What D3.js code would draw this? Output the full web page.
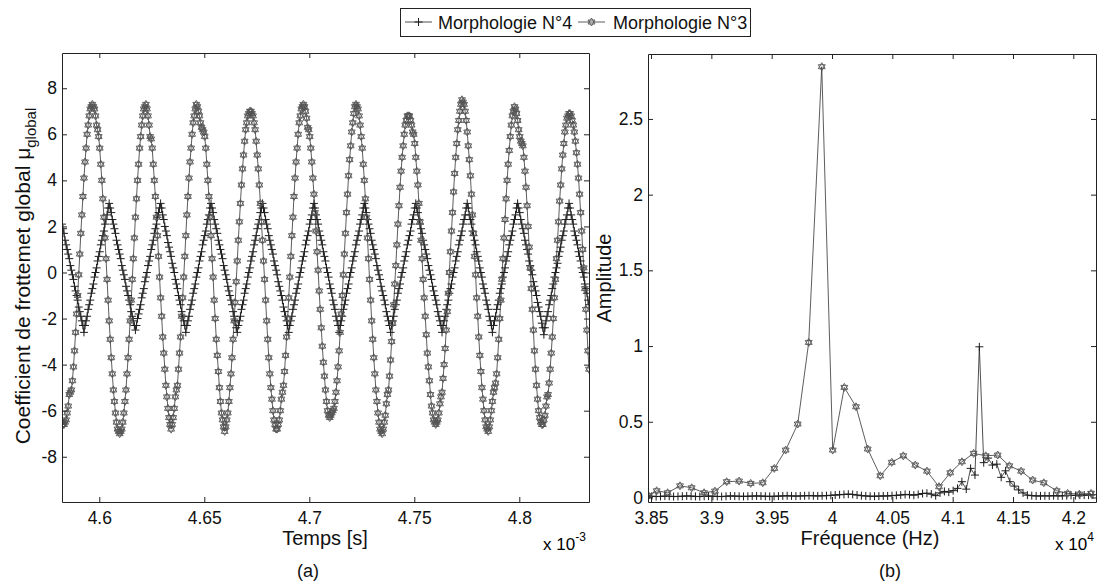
<!DOCTYPE html>
<html>
<head>
<meta charset="utf-8">
<script src="https://cdn.jsdelivr.net/npm/d3@7"></script>
<style>
  body { margin: 0; background: #fff; }
  svg { font-family: "Liberation Sans", Arial, sans-serif; }
  .axis { color: #222; font-size: 17.5px; }
  .axis text { fill: #111; }
  .axislabel { font-size: 20px; fill: #111; }
  .panel { font-size: 18px; fill: #111; }
  .legend { font-size: 18px; fill: #111; }
  .n4line { fill: none; stroke: #222; stroke-width: 0.8; }
  .n3line { fill: none; stroke: #333; stroke-width: 0.8; }
  .plus { fill: none; stroke: #1e1e1e; stroke-width: 1; }
  .star { fill: none; stroke: #555; stroke-width: 0.9; }
</style>
</head>
<body>
<svg id="fig" width="1101" height="587"></svg>
<script>
// ---- data ----
const legendLabels = ["Morphologie N\u00b04", "Morphologie N\u00b03"];

// (a) friction coefficient, sampled every 0.5 us from 4.5822e-3 s
const timeStart = 4.5822, timeStep = 0.0005;   // x 10^-3 s
const frictionN4 = [
  2.1, 1.9, 1.7, 1.4, 1.2, 1.0, 0.8, 0.6, 0.3, 0.1, -0.1, -0.3, -0.6, -0.8, -1.0, -1.2, -1.5, -1.7, -1.9, -2.1, -2.3, -2.6,
  -2.3, -2.1, -1.9, -1.6, -1.4, -1.2, -0.9, -0.7, -0.5, -0.2, 0.0, 0.2, 0.5, 0.7, 0.9, 1.2, 1.4, 1.6, 1.8, 2.1, 2.3, 2.5, 2.8, 3.0,
  2.8, 2.6, 2.3, 2.1, 1.9, 1.7, 1.4, 1.2, 1.0, 0.8, 0.6, 0.3, 0.1, -0.1, -0.3, -0.6, -0.8, -1.0, -1.2, -1.4, -1.7, -1.9, -2.1, -2.3, -2.5,
  -2.3, -2.0, -1.8, -1.6, -1.4, -1.1, -0.9, -0.7, -0.4, -0.2, 0.0, 0.3, 0.5, 0.7, 1.0, 1.2, 1.4, 1.7, 1.9, 2.1, 2.4, 2.6, 2.8, 3.0,
  2.8, 2.5, 2.3, 2.0, 1.8, 1.6, 1.3, 1.1, 0.9, 0.7, 0.4, 0.2, 0.0, -0.3, -0.5, -0.7, -1.0, -1.2, -1.4, -1.7, -1.9, -2.1, -2.3, -2.6,
  -2.3, -2.1, -1.9, -1.6, -1.4, -1.2, -0.9, -0.7, -0.5, -0.2, 0.0, 0.2, 0.5, 0.7, 0.9, 1.2, 1.4, 1.6, 1.8, 2.1, 2.3, 2.5, 2.8, 3.0,
  2.8, 2.6, 2.3, 2.1, 1.9, 1.7, 1.4, 1.2, 1.0, 0.8, 0.6, 0.3, 0.1, -0.1, -0.3, -0.6, -0.8, -1.0, -1.2, -1.4, -1.7, -1.9, -2.1, -2.4, -2.6,
  -2.3, -2.1, -1.9, -1.6, -1.4, -1.2, -0.9, -0.7, -0.5, -0.2, 0.0, 0.2, 0.5, 0.7, 0.9, 1.2, 1.4, 1.6, 1.9, 2.1, 2.3, 2.6, 2.8, 3.0,
  2.8, 2.6, 2.3, 2.1, 1.9, 1.6, 1.4, 1.2, 1.0, 0.8, 0.5, 0.3, 0.1, -0.1, -0.4, -0.6, -0.8, -1.0, -1.2, -1.5, -1.7, -1.9, -2.1, -2.3, -2.6,
  -2.3, -2.1, -1.9, -1.6, -1.4, -1.2, -0.9, -0.7, -0.5, -0.2, 0.0, 0.2, 0.5, 0.7, 0.9, 1.2, 1.4, 1.6, 1.8, 2.1, 2.3, 2.5, 2.8, 3.0,
  2.8, 2.5, 2.3, 2.1, 1.8, 1.6, 1.4, 1.2, 0.9, 0.7, 0.5, 0.2, 0.0, -0.2, -0.5, -0.7, -0.9, -1.2, -1.4, -1.6, -1.9, -2.1, -2.3, -2.6,
  -2.3, -2.1, -1.9, -1.6, -1.4, -1.2, -0.9, -0.7, -0.5, -0.2, 0.0, 0.2, 0.5, 0.7, 0.9, 1.2, 1.4, 1.6, 1.8, 2.1, 2.3, 2.5, 2.8, 3.0,
  2.8, 2.6, 2.3, 2.1, 1.9, 1.7, 1.4, 1.2, 1.0, 0.8, 0.6, 0.3, 0.1, -0.1, -0.3, -0.6, -0.8, -1.0, -1.2, -1.4, -1.7, -1.9, -2.1, -2.3, -2.6,
  -2.3, -2.1, -1.9, -1.6, -1.4, -1.2, -0.9, -0.7, -0.5, -0.2, 0.0, 0.2, 0.5, 0.7, 0.9, 1.2, 1.4, 1.6, 1.8, 2.1, 2.3, 2.5, 2.8, 3.0,
  2.8, 2.6, 2.3, 2.1, 1.9, 1.7, 1.4, 1.2, 1.0, 0.8, 0.6, 0.3, 0.1, -0.1, -0.3, -0.6, -0.8, -1.0, -1.2, -1.4, -1.7, -1.9, -2.1, -2.3, -2.6,
  -2.3, -2.1, -1.9, -1.6, -1.4, -1.2, -0.9, -0.7, -0.5, -0.2, 0.0, 0.2, 0.5, 0.7, 0.9, 1.2, 1.4, 1.6, 1.8, 2.1, 2.3, 2.5, 2.8, 3.0,
  2.8, 2.5, 2.3, 2.1, 1.8, 1.6, 1.4, 1.2, 0.9, 0.7, 0.5, 0.2, 0.0, -0.2, -0.5, -0.7, -0.9, -1.2, -1.4, -1.6, -1.9, -2.1, -2.3, -2.6,
  -2.3, -2.1, -1.9, -1.6, -1.4, -1.2, -0.9, -0.7, -0.5, -0.2, 0.0, 0.2, 0.5, 0.7, 0.9, 1.2, 1.4, 1.6, 1.8, 2.1, 2.3, 2.5, 2.8, 3.0,
  2.8, 2.6, 2.3, 2.1, 1.9, 1.7, 1.4, 1.2, 1.0, 0.8, 0.5, 0.3, 0.1, -0.1, -0.4, -0.6, -0.8, -1.0, -1.3, -1.5, -1.7, -1.9, -2.2, -2.4, -2.7,
  -2.4, -2.1, -1.9, -1.7, -1.4, -1.2, -1.0, -0.7, -0.5, -0.2, 0.0, 0.2, 0.4, 0.7, 0.9, 1.1, 1.4, 1.6, 1.8, 2.1, 2.3, 2.5, 2.8, 3.0,
  2.8, 2.5, 2.3, 2.1, 1.8, 1.6, 1.4, 1.2, 0.9, 0.7, 0.5, 0.2, 0.0, -0.2, -0.5, -0.7, -0.9, -1.2, -1.4
];
const frictionN3 = [
  -6.5, -6.6, -6.6,
  -6.5, -6.4, -6.1, -5.8, -5.3, -5.2, -5.1, -4.7, -4.1, -3.4, -2.6, -1.8, -1.0, -0.1, 0.8, 1.7, 2.5, 3.3, 4.1, 4.8, 5.4, 6.0, 6.4, 6.8, 7.1, 7.2, 7.3,
  7.2, 7.1, 6.8, 6.4, 6.2, 5.9, 5.4, 4.7, 4.0, 3.2, 2.4, 1.5, 0.6, -0.3, -1.2, -2.1, -2.9, -3.7, -4.4, -5.1, -5.6, -6.1, -6.5, -6.8, -6.9, -7.0,
  -6.9, -6.8, -6.5, -6.1, -5.6, -5.1, -4.4, -3.7, -2.9, -2.1, -1.2, -0.3, 0.6, 1.5, 2.4, 3.2, 4.0, 4.7, 5.4, 5.9, 6.4, 6.8, 7.1, 7.2, 7.3,
  7.1, 6.8, 6.4, 5.9, 5.8, 5.4, 4.7, 4.0, 3.3, 2.4, 1.6, 0.7, -0.2, -1.1, -1.9, -2.8, -3.5, -4.2, -4.9, -5.4, -5.9, -6.3, -6.6, -6.8,
  -6.6, -6.3, -5.9, -5.4, -5.1, -4.9, -4.2, -3.5, -2.8, -1.9, -1.1, -0.2, 0.7, 1.6, 2.5, 3.3, 4.1, 4.8, 5.4, 6.0, 6.5, 6.8, 7.1, 7.3,
  7.2, 7.0, 6.8, 6.5, 6.3, 6.2, 6.1, 5.9, 5.4, 4.7, 4.0, 3.3, 2.4, 1.6, 0.6, -0.2, -1.2, -2.0, -2.9, -3.6, -4.3, -5.0, -5.6, -6.1, -6.4, -6.7, -6.9,
  -6.7, -6.4, -6.1, -5.6, -5.0, -4.4, -3.7, -2.9, -2.1, -1.3, -0.4, 0.5, 1.4, 2.2, 3.0, 3.8, 4.5, 5.1, 5.7, 6.2, 6.5, 6.8, 6.9, 7.0,
  7.0, 6.9, 6.8, 6.5, 6.2, 5.7, 5.1, 4.5, 3.8, 3.0, 2.2, 1.4, 0.5, -0.3, -1.2, -2.1, -2.9, -3.7, -4.4, -5.0, -5.5, -6.0, -6.4, -6.6, -6.8, -6.8,
  -6.6, -6.4, -6.0, -5.5, -5.2, -4.9, -4.3, -3.6, -2.8, -2.0, -1.1, -0.2, 0.7, 1.6, 2.4, 3.3, 4.1, 4.8, 5.4, 6.0, 6.5, 6.8, 7.1, 7.2, 7.3,
  7.2, 7.0, 6.7, 6.3, 6.2, 5.9, 5.4, 4.8, 4.1, 3.4, 2.6, 1.8, 0.9, 0.1, -0.8, -1.6, -2.4, -3.2, -3.9, -4.5, -5.1, -5.6, -6.0, -6.2, -6.3,
  -6.2, -6.1, -6.0, -5.9, -5.6, -5.2, -4.7, -4.1, -3.4, -2.6, -1.8, -1.0, -0.1, 0.8, 1.7, 2.6, 3.4, 4.2, 4.9, 5.5, 6.1, 6.5, 6.9, 7.2, 7.3,
  7.2, 7.1, 6.8, 6.4, 5.9, 5.4, 4.7, 4.0, 3.2, 2.4, 1.5, 0.6, -0.3, -1.2, -2.1, -2.9, -3.7, -4.4, -5.1, -5.6, -6.1, -6.5, -6.8, -6.9, -7.0,
  -6.8, -6.5, -6.2, -5.7, -5.3, -5.1, -4.5, -3.8, -3.0, -2.2, -1.4, -0.5, 0.3, 1.2, 2.1, 2.9, 3.7, 4.4, 5.0, 5.5, 6.0, 6.4, 6.6, 6.8, 6.8,
  6.8, 6.6, 6.4, 6.1, 6.0, 5.6, 5.0, 4.4, 3.8, 3.0, 2.2, 1.4, 0.6, -0.3, -1.1, -1.9, -2.7, -3.5, -4.1, -4.7, -5.3, -5.8, -6.1, -6.4, -6.5, -6.6,
  -6.5, -6.4, -6.1, -5.7, -5.4, -5.2, -4.6, -4.0, -3.3, -2.5, -1.7, -0.9, 0.0, 0.9, 1.8, 2.6, 3.5, 4.3, 5.0, 5.6, 6.2, 6.6, 7.0, 7.3, 7.5,
  7.4, 7.3, 7.0, 6.6, 6.1, 5.5, 4.9, 4.2, 3.4, 2.5, 1.7, 0.7, -0.1, -1.1, -1.9, -2.8, -3.6, -4.3, -5.0, -5.5, -6.0, -6.4, -6.7, -6.8, -6.9,
  -6.7, -6.4, -6.0, -5.6, -5.2, -5.0, -4.8, -4.4, -3.7, -2.9, -2.0, -1.2, -0.3, 0.6, 1.5, 2.3, 3.2, 4.0, 4.7, 5.3, 5.9, 6.4, 6.8, 7.0, 7.2,
  7.1, 6.9, 6.6, 6.2, 5.9, 5.7, 5.6, 5.5, 5.0, 4.4, 3.7, 2.9, 2.0, 1.1, 0.2, -0.7, -1.6, -2.5, -3.4, -4.2, -4.9, -5.5, -6.0, -6.3, -6.5, -6.6,
  -6.6, -6.4, -6.2, -5.8, -5.4, -5.3, -4.8, -4.2, -3.5, -2.8, -2.0, -1.1, -0.3, 0.6, 1.4, 2.2, 3.1, 3.8, 4.5, 5.1, 5.6, 6.1, 6.4, 6.7, 6.8, 6.9,
  6.9, 6.8, 6.6, 6.4, 6.1, 5.7, 5.2, 4.7, 4.1, 3.4, 2.6, 1.8, 1.0, 0.2, -0.7, -1.6, -2.5, -3.4, -4.2
];

// (b) spectra
const freqStartN4 = 3.847, freqStepN4 = 0.00362;  // x 10^4 Hz
const ampN4 = [
  0.01, 0.008, 0.006, 0.007, 0.009, 0.008, 0.006, 0.007, 0.008, 0.01, 0.009, 0.007, 0.006, 0.008, 0.009, 0.008, 0.007, 0.006, 0.008, 0.01,
  0.009, 0.008, 0.007, 0.008, 0.009, 0.01, 0.009, 0.008, 0.007, 0.008, 0.009, 0.01, 0.011, 0.01, 0.009, 0.01, 0.011, 0.012, 0.011, 0.01, 0.011,
  0.012, 0.014, 0.016, 0.018, 0.02, 0.022, 0.02, 0.016, 0.012, 0.01, 0.008, 0.008, 0.009, 0.01, 0.01, 0.012, 0.014, 0.016, 0.02, 0.018,
  0.015, 0.02, 0.026, 0.028, 0.022, 0.012,
  0.03, 0.04, 0.035, 0.045, 0.06, 0.104, 0.055, 0.192, 0.148, 0.995, 0.23, 0.26, 0.214, 0.22, 0.133, 0.176, 0.104, 0.075, 0.05, 0.03, 0.015,
  0.012, 0.01, 0.01, 0.011, 0.01, 0.012, 0.01, 0.011, 0.012, 0.014, 0.013, 0.015, 0.016, 0.015, 0.018
];
const freqN3 = [3.848, 3.8547, 3.8638, 3.874, 3.8837, 3.894, 3.903, 3.9127, 3.923, 3.9326, 3.9426, 3.9522, 3.9616,
  3.9716, 3.9807, 3.9915, 4.0006, 4.0102, 4.0199, 4.0296, 4.040, 4.0495, 4.0591, 4.069, 4.0787, 4.0887, 4.098,
  4.1077, 4.1174, 4.1274, 4.1373, 4.147, 4.1567, 4.1663, 4.1755, 4.1862, 4.1953, 4.205, 4.2147];
const ampN3 = [0.012, 0.044, 0.031, 0.077, 0.064, 0.031, 0.042, 0.104, 0.108, 0.093, 0.097, 0.192, 0.313,
  0.485, 1.024, 2.845, 0.313, 0.727, 0.599, 0.32, 0.143, 0.232, 0.275, 0.214, 0.174, 0.071, 0.163,
  0.236, 0.291, 0.275, 0.28, 0.209, 0.174, 0.115, 0.097, 0.044, 0.027, 0.022, 0.027];

const timeTicks = [4.6, 4.65, 4.7, 4.75, 4.8];
const frictionTicks = [-8, -6, -4, -2, 0, 2, 4, 6, 8];
const freqTicks = [3.85, 3.9, 3.95, 4, 4.05, 4.1, 4.15, 4.2];
const ampTicks = [0, 0.5, 1, 1.5, 2, 2.5];

// ---- markers ----
// hexagram drawn as two overlapping triangles, like the printed markers
function hexagram(R) {
  let tri = (start) => {
    let p = [];
    for (let k = 0; k < 3; k++) {
      let a = (start + 120 * k) * Math.PI / 180;
      p.push((R * Math.cos(a)).toFixed(2) + "," + (R * Math.sin(a)).toFixed(2));
    }
    return "M" + p.join("L") + "Z";
  };
  return tri(-90) + tri(90);
}
function plus(r) { return `M${-r},0H${r}M0,${-r}V${r}`; }
const starPath = hexagram(4);
const plusPath = plus(4);

const svg = d3.select("#fig");
const fmt = d => String(+d.toFixed(2));

function frame(g, x, y, xt, yt, left, top, right, bottom) {
  g.append("g").attr("class", "axis").attr("transform", `translate(0,${bottom})`)
    .call(d3.axisBottom(x).tickValues(xt).tickSizeInner(-5).tickSizeOuter(0).tickPadding(10).tickFormat(fmt));
  g.append("g").attr("class", "axis").attr("transform", `translate(0,${top})`)
    .call(d3.axisTop(x).tickValues(xt).tickSizeInner(-5).tickSizeOuter(0).tickFormat(""));
  g.append("g").attr("class", "axis").attr("transform", `translate(${left},0)`)
    .call(d3.axisLeft(y).tickValues(yt).tickSizeInner(-5).tickSizeOuter(0).tickPadding(5).tickFormat(fmt));
  g.append("g").attr("class", "axis").attr("transform", `translate(${right},0)`)
    .call(d3.axisRight(y).tickValues(yt).tickSizeInner(-5).tickSizeOuter(0).tickFormat(""));
}

// ---- panel (a) ----
const xA = d3.scaleLinear().domain([4.58224, 4.83319]).range([62, 589]);
const yA = d3.scaleLinear().domain([-9.965, 9.53]).range([502, 53]);
svg.append("clipPath").attr("id", "clipA").append("rect")
  .attr("x", 62).attr("y", 53).attr("width", 527).attr("height", 449);
const gA = svg.append("g");
const dataA4 = frictionN4.map((v, i) => [timeStart + i * timeStep, v]);
const dataA3 = frictionN3.map((v, i) => [timeStart + i * timeStep, v]);
const lineA = d3.line().x(d => xA(d[0])).y(d => yA(d[1]));
const plotA = gA.append("g").attr("clip-path", "url(#clipA)");
plotA.append("path").attr("class", "n4line").attr("d", lineA(dataA4));
plotA.append("path").attr("class", "n3line").attr("d", lineA(dataA3));
plotA.selectAll(".p4").data(dataA4).join("path").attr("class", "plus")
  .attr("d", plusPath).attr("transform", d => `translate(${xA(d[0])},${yA(d[1])})`);
plotA.selectAll(".s3").data(dataA3).join("path").attr("class", "star")
  .attr("d", starPath).attr("transform", d => `translate(${xA(d[0])},${yA(d[1])})`);
frame(gA, xA, yA, timeTicks, frictionTicks, 62, 53, 589, 502);

gA.append("text").attr("class", "axislabel").attr("x", 325).attr("y", 545)
  .attr("text-anchor", "middle").text("Temps [s]");
let ylab = gA.append("text").attr("class", "axislabel").attr("text-anchor", "middle")
  .style("font-size", "21px").attr("transform", "translate(30,276) rotate(-90)");
ylab.append("tspan").text("Coefficient de frottemet global \u03bc");
ylab.append("tspan").attr("font-size", "15px").attr("dy", 6).text("global");
let ea = gA.append("text").attr("class", "axis").attr("x", 543).attr("y", 550).style("font-size", "17px");
ea.append("tspan").text("x 10");
ea.append("tspan").attr("dy", -9).style("font-size", "12px").text("-3");
gA.append("text").attr("class", "panel").attr("x", 308).attr("y", 577)
  .attr("text-anchor", "middle").text("(a)");

// ---- panel (b) ----
const xB = d3.scaleLinear().domain([3.8475, 4.2188]).range([648, 1096]);
const yB = d3.scaleLinear().domain([-0.03, 2.929]).range([502, 54]);
svg.append("clipPath").attr("id", "clipB").append("rect")
  .attr("x", 648).attr("y", 54).attr("width", 448).attr("height", 448);
const gB = svg.append("g");
const dataB4 = ampN4.map((v, i) => [freqStartN4 + i * freqStepN4, v]);
const dataB3 = ampN3.map((v, i) => [freqN3[i], v]);
const lineB = d3.line().x(d => xB(d[0])).y(d => yB(d[1]));
const plotB = gB.append("g").attr("clip-path", "url(#clipB)");
plotB.append("path").attr("class", "n4line").attr("d", lineB(dataB4));
plotB.append("path").attr("class", "n3line").attr("d", lineB(dataB3));
plotB.selectAll(".p4").data(dataB4).join("path").attr("class", "plus")
  .attr("d", plusPath).attr("transform", d => `translate(${xB(d[0])},${yB(d[1])})`);
plotB.selectAll(".s3").data(dataB3).join("path").attr("class", "star")
  .attr("d", starPath).attr("transform", d => `translate(${xB(d[0])},${yB(d[1])})`);
frame(gB, xB, yB, freqTicks, ampTicks, 648, 54, 1096, 502);

gB.append("text").attr("class", "axislabel").attr("x", 870).attr("y", 545)
  .attr("text-anchor", "middle").text("Fr\u00e9quence (Hz)");
gB.append("text").attr("class", "axislabel").attr("text-anchor", "middle")
  .attr("transform", "translate(611,278) rotate(-90)").text("Amplitude");
let eb = gB.append("text").attr("class", "axis").attr("x", 1055).attr("y", 550).style("font-size", "17px");
eb.append("tspan").text("x 10");
eb.append("tspan").attr("dy", -9).style("font-size", "12px").text("4");
gB.append("text").attr("class", "panel").attr("x", 890).attr("y", 577)
  .attr("text-anchor", "middle").text("(b)");

// ---- legend ----
const lg = svg.append("g");
lg.append("rect").attr("x", 400.5).attr("y", 8.5).attr("width", 350).attr("height", 28)
  .attr("fill", "#fff").attr("stroke", "#222");
lg.append("line").attr("x1", 405).attr("x2", 432).attr("y1", 22).attr("y2", 22).attr("class", "n4line");
lg.append("path").attr("class", "plus").attr("d", plusPath).attr("transform", "translate(418.5,22)");
lg.append("text").attr("class", "legend").attr("x", 438).attr("y", 28.5).text(legendLabels[0]);
lg.append("line").attr("x1", 578).attr("x2", 605).attr("y1", 22).attr("y2", 22).attr("class", "n3line");
lg.append("path").attr("class", "star").attr("d", starPath).attr("transform", "translate(591.5,22)");
lg.append("text").attr("class", "legend").attr("x", 613).attr("y", 28.5).text(legendLabels[1]);
</script>
</body>
</html>
